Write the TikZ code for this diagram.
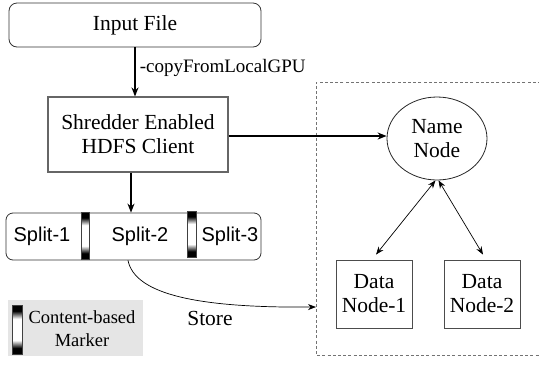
\documentclass[tikz,border=0pt]{standalone}
\usepackage{fontspec}
\setmainfont{Liberation Serif}
\newfontfamily\splitfont{Liberation Sans}
\usetikzlibrary{shapes.geometric,arrows.meta,calc}

% black ends fading into a white middle
\pgfdeclareverticalshading{markershade}{100bp}{%
  color(0bp)=(black); color(25bp)=(black); color(31bp)=(black);
  color(39bp)=(white); color(61bp)=(white); color(69bp)=(black);
  color(75bp)=(black); color(100bp)=(black)}

\tikzset{
  every node/.style={font=\fontsize{21.5}{24}\selectfont, align=center, inner sep=0pt},
  roundbox/.style={draw=black!80, line width=0.8pt, rounded corners=8pt},
  clientbox/.style={draw=black!60, line width=1.1pt, fill=white},
  datanode/.style={draw=black!70, line width=0.9pt, minimum width=76pt, minimum height=68pt},
  namenode/.style={ellipse, draw=black!85, line width=0.8pt, minimum width=100pt, minimum height=83pt},
  marker/.style={shade, shading=markershade, draw=black!75, line width=0.6pt},
  splittext/.style={font=\splitfont\fontsize{20}{24}\selectfont},
  thick arrow/.style={line width=1.8pt, -{Stealth[length=9pt,width=7pt]}},
  thin arrow/.style={line width=0.7pt, -{Stealth[length=8pt,width=6pt]}},
  both arrow/.style={line width=0.7pt, {Stealth[length=8pt,width=6pt]}-{Stealth[length=8pt,width=6pt]}},
  clusterline/.style={draw=black!55, line width=1pt, dash pattern=on 3pt off 2.2pt},
  legendbox/.style={fill=black!10, draw=none},
}

\begin{document}
\begin{tikzpicture}[x=1pt, y=-1pt]
\useasboundingbox (0,0) rectangle (539,368);

% HDFS cluster outline (open on the right)
\draw[clusterline] (541,82) -- (316,82) -- (316,355) -- (541,355);
\coordinate (storeIn) at (316,307);

% client side
\node[roundbox, minimum width=252pt, minimum height=44pt] (input) at (135,25) {Input File};
\node[clientbox, minimum width=180pt, minimum height=75pt] (client) at (138,134.5)
  {Shredder Enabled\\HDFS Client};

% split bar with markers
\node[roundbox, rounded corners=7pt, minimum width=255pt, minimum height=47pt] (split) at (133.5,236.5) {};
\node[marker, minimum width=8pt, minimum height=47pt] (m1) at (85,235.5) {};
\node[marker, minimum width=9pt, minimum height=46pt] (m2) at (192,234) {};
\node[splittext] (s1) at (42,236) {Split-1};
\node[splittext] (s2) at (140,236) {Split-2};
\node[splittext] (s3) at (230,236) {Split-3};

% legend
\node[legendbox, minimum width=135pt, minimum height=56pt] (legend) at (75.5,328) {};
\node[marker, minimum width=10pt, minimum height=49pt] (lm) at (17,329.5) {};
\node[font=\fontsize{18.5}{23}\selectfont] (ltext) at (82,328.5) {Content-based\\Marker};

% cluster nodes
\node[namenode] (name) at (437,138.5) {Name\\Node};
\node[datanode] (dn1) at (374,294) {Data\\Node-1};
\node[datanode] (dn2) at (482,294) {Data\\Node-2};

% connectors
\draw[thick arrow] (input.south) -- (input.south |- client.north)
  node[pos=0.42, right=4pt, font=\fontsize{19}{22}\selectfont] (copy) {-copyFromLocalGPU};
\draw[thick arrow] ([xshift=-7pt]client.south) -- ([xshift=-7pt]client.south |- split.north);
\draw[thick arrow] ([yshift=-1.5pt]client.east) -- ([yshift=-1.5pt]client.east -| name.west);
\draw[both arrow] ([xshift=-1.5pt]name.south) -- ([shift={(2pt,5pt)}]dn1.north);
\draw[both arrow] ([xshift=1.5pt]name.south) -- ([shift={(1pt,5pt)}]dn2.north);
\draw[thin arrow] ([xshift=-5.5pt]split.south) .. controls (135,295) and (200,308) .. (storeIn);
\node (store) at (210,318) {Store};
\end{tikzpicture}
\end{document}
